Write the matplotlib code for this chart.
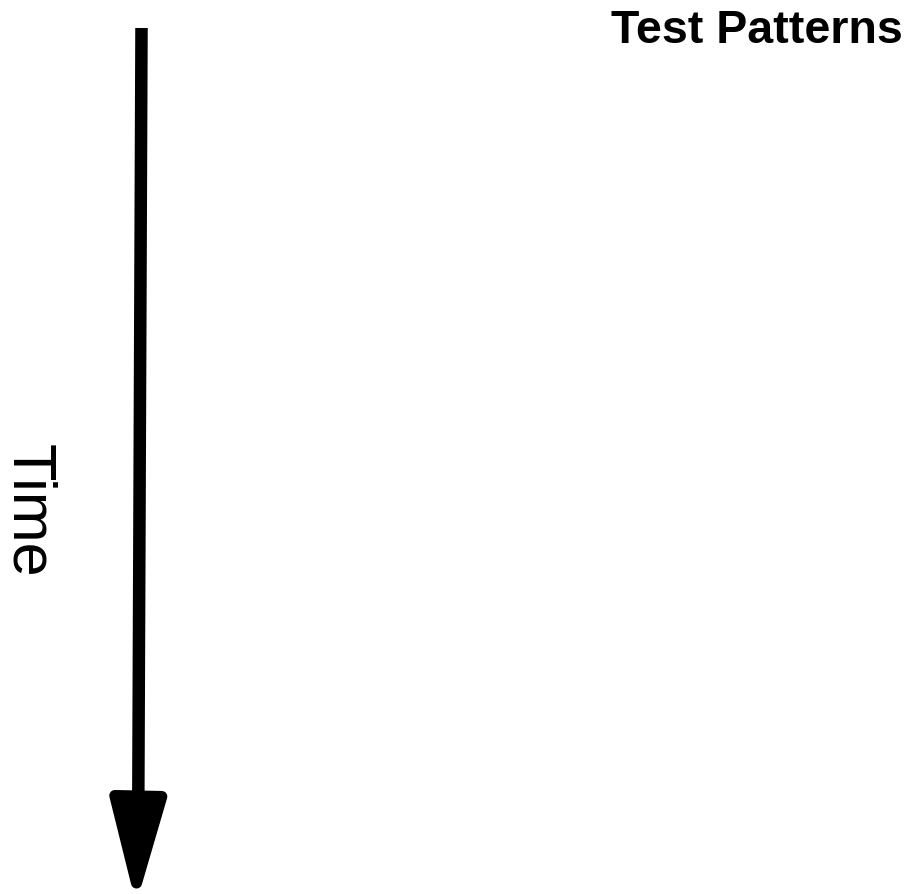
import matplotlib.pyplot as plt
from matplotlib.patches import FancyArrow

plt.rcParams['font.family'] = ['Liberation Sans', 'DejaVu Sans']

# Diagram content
title_text = "Test Patterns"
axis_label = "Time"

# Arrow geometry in pixel units of the canvas
shaft_top = (141.5, 28)
head_top = (138.3, 796)
tip = (136.5, 883)
head_width = 47

fig = plt.figure(figsize=(9.11, 8.94), dpi=100)
ax = fig.add_axes([0, 0, 1, 1])
ax.set_xlim(0, 911)
ax.set_ylim(894, 0)
ax.axis("off")

# shaft: flat-ended thick line
ax.plot([shaft_top[0], head_top[0]], [shaft_top[1], head_top[1] + 4],
        color="black", lw=9, solid_capstyle="butt")

# head: triangle with a thick round stroke for rounded corners / blunt tip
head = FancyArrow(head_top[0], head_top[1], tip[0] - head_top[0], tip[1] - head_top[1],
                  width=0.5, head_width=head_width, head_length=tip[1] - head_top[1],
                  length_includes_head=True, color="black", lw=8, joinstyle="round")
ax.add_patch(head)

ax.text(28, 511, axis_label, rotation=270, fontsize=44,
        ha="center", va="center", color="black")
ax.text(757, 31, title_text, fontsize=33.5, fontweight="bold",
        ha="center", va="center", color="black")

fig.savefig("out.png", dpi=100)
